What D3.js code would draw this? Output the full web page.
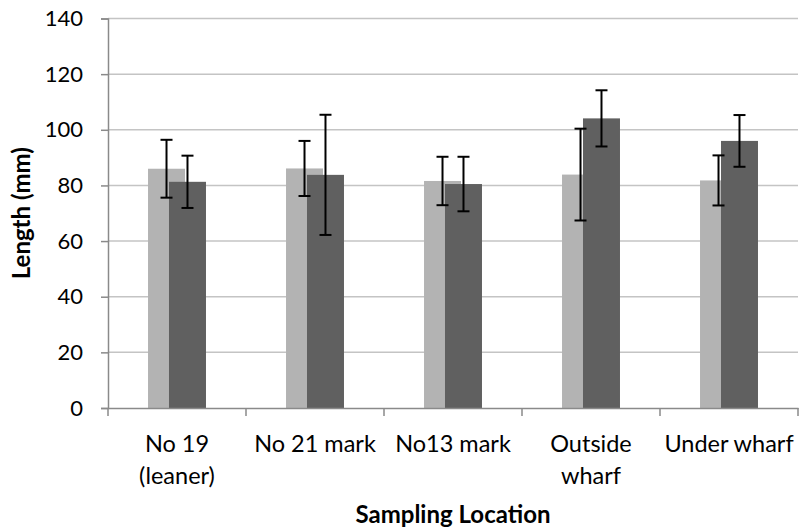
<!DOCTYPE html>
<html>
<head>
<meta charset="utf-8">
<script src="https://cdn.jsdelivr.net/npm/d3@7"></script>
<style>
  html, body { margin: 0; padding: 0; background: #fff; }
  svg { display: block; font-family: Lato, "Open Sans", sans-serif; }
</style>
</head>
<body>
<svg id="chart" width="801" height="531"></svg>
<script>
// Sampling locations (category labels, split over lines)
const locations = ["No 19 (leaner)", "No 21 mark", "No13 mark", "Outside wharf", "Under wharf"];
const locationLines = [["No 19", "(leaner)"], ["No 21 mark"], ["No13 mark"], ["Outside", "wharf"], ["Under wharf"]];

// Mean length (mm) and error (±) for the two groups
const lightMeans = [86.0, 86.1, 81.6, 83.9, 81.8];
const lightErrors = [10.4, 9.9, 8.7, 16.5, 9.0];
const darkMeans = [81.3, 83.8, 80.5, 104.1, 96.0];
const darkErrors = [9.4, 21.6, 9.8, 10.1, 9.3];

const yTicks = [0, 20, 40, 60, 80, 100, 120, 140];

const seriesKeys = ["light", "dark"];
const seriesColors = { light: "#b3b3b3", dark: "#606060" };

const svg = d3.select("#chart");
const plotLeft = 108, plotRight = 798, plotTop = 18.5, plotBottom = 408;

const x = d3.scaleBand().domain(locations).range([plotLeft, plotRight]).padding(0);
const y = d3.scaleLinear().domain([0, 140]).range([plotBottom, plotTop]);

// bars overlap a little: centres are offset from the category centre
const bw = x.bandwidth();
const offset = d3.scalePoint().domain(seriesKeys).range([-0.076 * bw, 0.076 * bw]);
const barWidth = 0.268 * bw;

// horizontal gridlines
svg.append("g")
  .selectAll("line")
  .data(yTicks.filter(d => d > 0))
  .join("line")
  .attr("x1", plotLeft).attr("x2", plotRight)
  .attr("y1", d => y(d)).attr("y2", d => y(d))
  .attr("stroke", "#c4c4c4")
  .attr("stroke-width", 1.5);

// y axis
const yAxis = svg.append("g")
  .attr("transform", `translate(${plotLeft},0)`)
  .call(d3.axisLeft(y).tickValues(yTicks).tickSize(7).tickPadding(18).tickFormat(d3.format("d")));
yAxis.select(".domain").attr("stroke", "#8a8a8a").attr("stroke-width", 1.5);
yAxis.selectAll(".tick line").attr("stroke", "#8a8a8a").attr("stroke-width", 1.5);
yAxis.selectAll(".tick text")
  .attr("fill", "#000")
  .style("font-size", "22px")
  .style("font-family", "Lato, sans-serif");

// bars
const rows = locations.map((loc, i) => ({
  loc,
  light: { v: lightMeans[i], e: lightErrors[i] },
  dark: { v: darkMeans[i], e: darkErrors[i] }
}));

const groups = svg.append("g")
  .selectAll("g")
  .data(rows)
  .join("g")
  .attr("transform", d => `translate(${x(d.loc) + bw / 2},0)`);

seriesKeys.forEach(key => {
  groups.append("rect")
    .attr("x", offset(key) - barWidth / 2)
    .attr("width", barWidth)
    .attr("y", d => y(d[key].v))
    .attr("height", d => y(0) - y(d[key].v))
    .attr("fill", seriesColors[key]);
});

// x axis (drawn over the bar bottoms)
const xAxis = svg.append("g")
  .attr("transform", `translate(0,${plotBottom})`)
  .call(d3.axisBottom(x).tickSize(0).tickFormat(""));
xAxis.select(".domain").attr("stroke", "#8a8a8a").attr("stroke-width", 1.5);
xAxis.selectAll(".tick").remove();
// category separators
svg.append("g")
  .selectAll("line")
  .data(locations.map(l => x(l)).concat([plotRight]))
  .join("line")
  .attr("x1", d => d).attr("x2", d => d)
  .attr("y1", plotBottom).attr("y2", plotBottom + 8)
  .attr("stroke", "#8a8a8a").attr("stroke-width", 1.5);

// category labels
const labels = svg.append("g")
  .selectAll("text")
  .data(locations)
  .join("text")
  .attr("x", d => x(d) + bw / 2)
  .attr("y", 452)
  .attr("text-anchor", "middle")
  .style("font-size", "23.5px")
  .attr("fill", "#000");
labels.each(function (d, i) {
  d3.select(this).selectAll("tspan")
    .data(locationLines[i])
    .join("tspan")
    .attr("x", x(d) + bw / 2)
    .attr("dy", (t, j) => j === 0 ? 0 : 32)
    .text(t => t);
});

// error bars
seriesKeys.forEach(key => {
  const eb = groups.append("g").attr("stroke", "#000").attr("stroke-width", 2);
  eb.append("line")
    .attr("x1", offset(key)).attr("x2", offset(key))
    .attr("y1", d => y(d[key].v + d[key].e))
    .attr("y2", d => y(d[key].v - d[key].e));
  [1, -1].forEach(s => {
    eb.append("line")
      .attr("x1", offset(key) - 6).attr("x2", offset(key) + 6)
      .attr("y1", d => y(d[key].v + s * d[key].e))
      .attr("y2", d => y(d[key].v + s * d[key].e));
  });
});

// axis titles
svg.append("text")
  .attr("transform", `translate(30,${(plotTop + plotBottom) / 2}) rotate(-90)`)
  .attr("text-anchor", "middle")
  .style("font-size", "24px")
  .style("font-weight", "bold")
  .text("Length (mm)");

svg.append("text")
  .attr("x", (plotLeft + plotRight) / 2)
  .attr("y", 523)
  .attr("text-anchor", "middle")
  .style("font-size", "24px")
  .style("font-weight", "bold")
  .text("Sampling Location");
</script>
</body>
</html>
